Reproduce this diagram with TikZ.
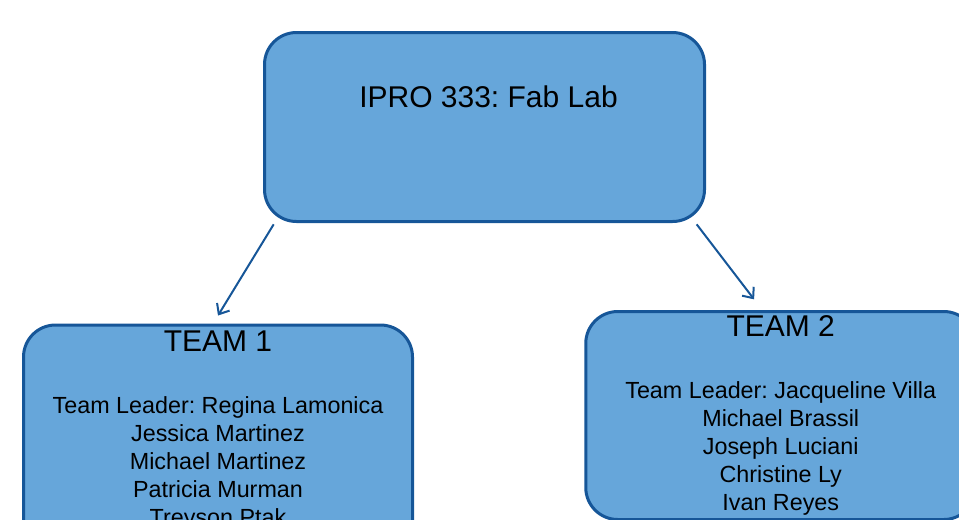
\documentclass[tikz,border=0pt]{standalone}
\usepackage{fontspec}
\setmainfont{Liberation Sans}
\usetikzlibrary{positioning,arrows.meta}
\definecolor{ipBlue}{RGB}{102,166,218}
\definecolor{ipEdge}{RGB}{22,86,152}
\frenchspacing

\begin{document}
\begin{tikzpicture}[x=0.75pt, y=-0.75pt,
		box/.style = {draw=ipEdge, fill=ipBlue, line width=2.25pt, rounded corners=24pt, inner sep=0pt},
		head/.style = {font=\fontsize{22.5}{26}\selectfont, inner sep=0pt},
		names/.style = {font=\fontsize{17.5}{21}\selectfont, align=center, inner sep=0pt},
		arr/.style = {draw=ipEdge, line width=1.5pt, -{Straight Barb[length=6.5pt,width=11pt]}}]
			\useasboundingbox (0,0) rectangle (959,519);
			\clip (0,0) rectangle (959,519);
			\node[box, minimum width=330pt, minimum height=141.75pt] (ipro) at (484.5,127) {};
			\node[box, minimum width=291.75pt, minimum height=180pt] (team1) at (218,445) {};
			\node[box, minimum width=292.5pt, minimum height=156pt] (team2) at (780.75,415.5) {};
			\node[head, anchor=north] (title) [below=41pt of ipro.north, xshift=3pt] {IPRO 333: Fab Lab};
			\node[head, anchor=north] (h1) [below=5pt of team1.north] {TEAM 1};
			\node[head, anchor=north] (h2) [below=4pt of team2.north] {TEAM 2};
			\node[names] (m1) [below=34pt of h1] {Team Leader: Regina Lamonica\\Jessica Martinez\\Michael Martinez\\Patricia Murman\\Treyson Ptak};
			\node[names] (m2) [below=33.5pt of h2] {Team Leader: Jacqueline Villa\\Michael Brassil\\Joseph Luciani\\Christine Ly\\Ivan Reyes};
			\draw[arr] ([xshift=8pt,yshift=-1pt]ipro.south west) -- ([yshift=6pt]team1.north);
			\draw[arr] ([xshift=-7pt,yshift=-1pt]ipro.south east) -- ([xshift=-20pt,yshift=8pt]team2.north);
		\end{tikzpicture}
\end{document}
